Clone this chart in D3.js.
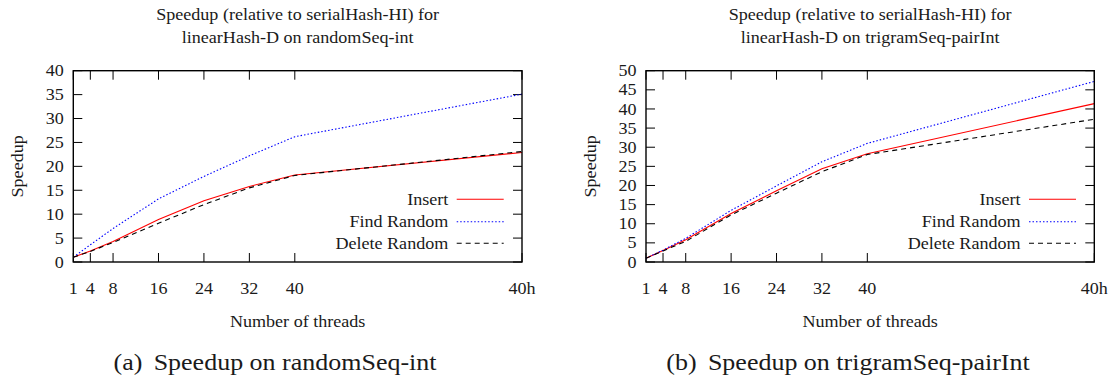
<!DOCTYPE html>
<html>
<head>
<meta charset="utf-8">
<script src="https://cdn.jsdelivr.net/npm/d3@7"></script>
<style>
  html, body { margin: 0; padding: 0; background: #fff; }
  svg { display: block; }
</style>
</head>
<body>
<svg id="chart" width="1111" height="379"></svg>
<script>
// ---- data ----
const xValues = [1, 4, 8, 16, 24, 32, 40, 80];          // 80 = position of "40h"
const xTickLabels = ["1", "4", "8", "16", "24", "32", "40", "40h"];
const seriesNames = ["Insert", "Find Random", "Delete Random"];

const randInsert = [1, 2.3, 4.3, 8.9, 12.8, 15.8, 18.2, 22.9];
const randFind   = [1, 3.6, 7.0, 13.2, 17.9, 22.2, 26.2, 35.1];
const randDelete = [1, 2.2, 4.1, 8.1, 12.0, 15.5, 18.1, 23.1];

const trigInsert = [1, 3.0, 5.8, 12.7, 18.6, 24.4, 28.3, 41.4];
const trigFind   = [1, 3.1, 6.2, 13.5, 19.9, 26.2, 31.0, 47.2];
const trigDelete = [1, 2.9, 5.4, 12.3, 18.0, 23.6, 28.1, 37.3];

const randYTicks = [0, 5, 10, 15, 20, 25, 30, 35, 40];
const trigYTicks = [0, 5, 10, 15, 20, 25, 30, 35, 40, 45, 50];

const titleLine1 = "Speedup (relative to serialHash-HI) for";
const randTitle2 = "linearHash-D on randomSeq-int";
const trigTitle2 = "linearHash-D on trigramSeq-pairInt";
const xLabel = "Number of threads";
const yLabel = "Speedup";
const randCaption = ["(a)", "Speedup on randomSeq-int"];
const trigCaption = ["(b)", "Speedup on trigramSeq-pairInt"];

// ---- drawing ----
const svg = d3.select("#chart");
const FONT = "Liberation Serif";
const TXT = "#1a1a1a";
const SX = 1.13;   // horizontal widening of the text, as in the reference
const styles = [
  { color: "#ff0000", dash: null },
  { color: "#0000ff", dash: "1.5,2" },
  { color: "#000000", dash: "5,4" }
];

// text placed at (x, y), widened horizontally around its anchor
function txt(parent, x, y, size, anchor, str, sx = SX, rot = 0) {
  return parent.append("text")
    .attr("font-family", FONT).attr("font-size", size).attr("fill", TXT)
    .attr("text-anchor", anchor)
    .attr("transform", `translate(${x},${y})${rot ? ` rotate(${rot})` : ""} scale(${sx},1)`)
    .text(str);
}

function panel(cfg) {
  const { left, right, top, bottom, yMax, yTicks, series, title2, caption, captionX } = cfg;
  const g = svg.append("g");
  const x = d3.scaleLinear().domain([1, 80]).range([left, right]);
  const y = d3.scaleLinear().domain([0, yMax]).range([bottom, top]);
  const tl = 9;
  const fs = 16;

  // ticks (mirrored, inward)
  const tickG = g.append("g").attr("stroke", "#000").attr("stroke-width", 1);
  yTicks.forEach(v => {
    tickG.append("line").attr("x1", left).attr("x2", left + tl).attr("y1", y(v)).attr("y2", y(v));
    tickG.append("line").attr("x1", right).attr("x2", right - tl).attr("y1", y(v)).attr("y2", y(v));
  });
  xValues.forEach(v => {
    tickG.append("line").attr("x1", x(v)).attr("x2", x(v)).attr("y1", bottom).attr("y2", bottom - tl);
    tickG.append("line").attr("x1", x(v)).attr("x2", x(v)).attr("y1", top).attr("y2", top + tl);
  });

  // y tick labels
  yTicks.forEach(v => {
    txt(g, left - 9.5, y(v), fs, "end", v).attr("dy", "0.35em");
  });

  // x tick labels
  xValues.forEach((v, i) => {
    txt(g, x(v), 293.5, fs, "middle", xTickLabels[i]);
  });

  // lines
  const line = d3.line().x((d, i) => x(xValues[i])).y(d => y(d));
  series.forEach((s, i) => {
    g.append("path").datum(s)
      .attr("fill", "none").attr("stroke", styles[i].color).attr("stroke-width", 1.1)
      .attr("stroke-dasharray", styles[i].dash)
      .attr("d", line);
  });

  // frame
  g.append("rect").attr("x", left).attr("y", top).attr("width", right - left).attr("height", bottom - top)
    .attr("fill", "none").attr("stroke", "#000").attr("stroke-width", 1.4);

  // legend
  const legY = [199.3, 221.7, 243.3];
  const legTextX = right - 73.7;
  seriesNames.forEach((n, i) => {
    txt(g, legTextX, legY[i], fs, "end", n).attr("dy", "0.35em");
    g.append("line").attr("x1", right - 65.3).attr("x2", right - 18.3)
      .attr("y1", legY[i]).attr("y2", legY[i])
      .attr("stroke", styles[i].color).attr("stroke-width", 1.1)
      .attr("stroke-dasharray", styles[i].dash);
  });

  // titles
  const cx = (left + right) / 2;
  txt(g, cx, 19.5, fs, "middle", titleLine1);
  txt(g, cx, 42.5, fs, "middle", title2);

  // axis labels
  txt(g, cx, 327, fs, "middle", xLabel);
  txt(g, left - 56, (top + bottom) / 2, fs, "middle", yLabel, SX, -90).attr("dy", "0.35em");

  // caption
  const cap = txt(g, captionX, 370, 23, "middle", null, 1.13);
  cap.append("tspan").text(caption[0]);
  cap.append("tspan").attr("dx", 10).text(caption[1]);
}

panel({ left: 73.3, right: 522, top: 70.7, bottom: 262, yMax: 40, yTicks: randYTicks,
        series: [randInsert, randFind, randDelete], title2: randTitle2, caption: randCaption, captionX: 275 });
panel({ left: 646, right: 1094.3, top: 70.7, bottom: 262, yMax: 50, yTicks: trigYTicks,
        series: [trigInsert, trigFind, trigDelete], title2: trigTitle2, caption: trigCaption, captionX: 848 });
</script>
</body>
</html>
